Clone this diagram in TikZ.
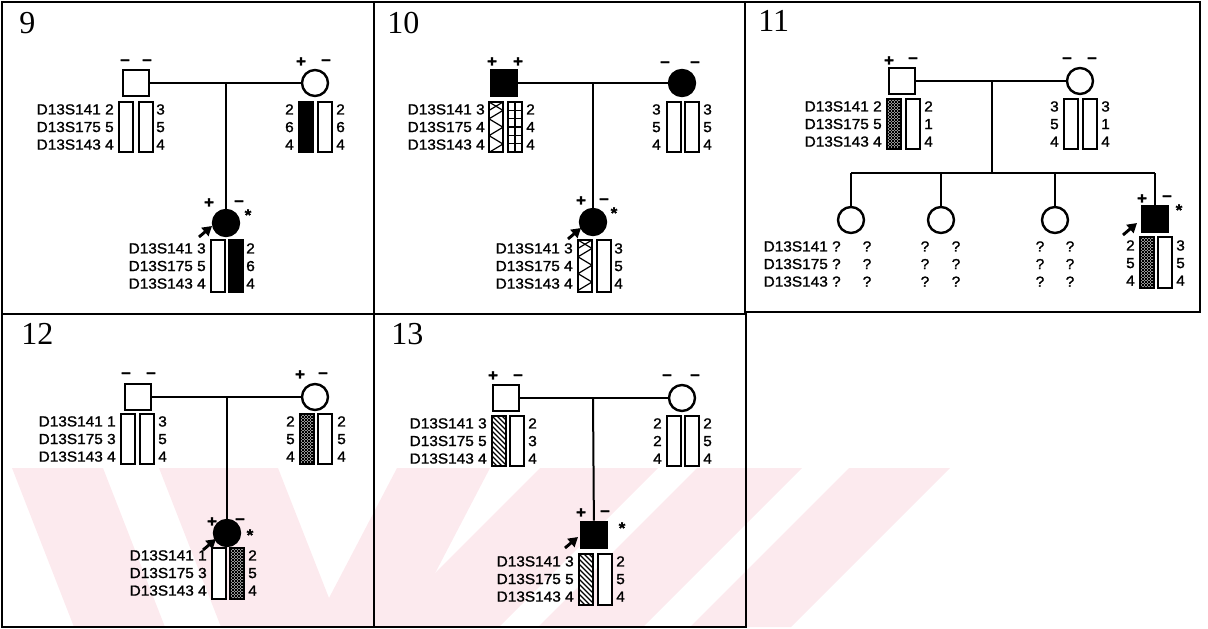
\documentclass[tikz,border=0pt]{standalone}
\usepackage{fontspec}
\setmainfont{Liberation Serif}
\newfontfamily\lblfont[FakeStretch=1.06,FakeBold=1.4]{Liberation Sans}
\usetikzlibrary{arrows.meta}
\definecolor{wmark}{RGB}{252,234,238}
\tikzset{
  male/.style={rectangle, draw, line width=2pt, minimum size=19.5pt, inner sep=0pt},
  female/.style={circle, draw, line width=1.8pt, minimum size=19.5pt, inner sep=0pt},
  affected/.style={fill=black},
  link/.style={line width=1.5pt},
  frame/.style={line width=1.1pt},
  bar/.style={draw, line width=0.9pt, fill=white},
  solidbar/.style={bar, fill=black},
  mesh/.style={bar, path picture={
      \foreach \k in {-60,-57,...,15} \draw[line width=0.6pt] ([xshift=\k*0.75pt]path picture bounding box.north west) -- ++(60,60);
      \foreach \k in {0,3,...,75} \draw[line width=0.6pt] ([xshift=\k*0.75pt]path picture bounding box.north west) -- ++(-60,60);}},
  hatch/.style={bar, path picture={
      \foreach \k in {-60,-55,...,15} \draw[line width=0.8pt] ([xshift=\k*0.75pt]path picture bounding box.north west) -- ++(60,60);}},
  zigzag/.style={bar, path picture={
      \draw[line width=0.9pt] (path picture bounding box.north west) -- ++(14,8.4) -- ++(-14,8.4) -- ++(14,8.4) -- ++(-14,8.4) -- ++(14,8.4) -- ++(-14,8.4);
      \draw[line width=0.9pt] (path picture bounding box.north east) -- ++(-14,8.4);}},
  grid/.style={bar, path picture={
      \draw[line width=0.8pt] (path picture bounding box.north) -- (path picture bounding box.south);
      \foreach \k in {1,...,5} \draw[line width=0.8pt] ([yshift=-\k*6.25pt]path picture bounding box.north west) -- ++(14,0);}},
  lbl/.style={font=\lblfont\fontsize{10.9}{13.2}\selectfont, inner sep=0pt, align=right, anchor=east},
  rnum/.style={lbl, align=left, anchor=west},
  qm/.style={lbl, align=center, anchor=center},
  sign/.style={font=\lblfont\bfseries\fontsize{12}{12}\selectfont, inner sep=0pt},
  star/.style={font=\lblfont\bfseries\fontsize{12}{12}\selectfont, inner sep=0pt},
  panel/.style={font=\fontsize{24}{24}\selectfont, inner sep=0pt, anchor=base west},
  proband/.style={-{Triangle[length=7pt,width=8pt]}, line width=2.2pt}
}

\begin{document}
\begin{tikzpicture}[x=0.75pt, y=-0.75pt]
    \useasboundingbox (0,0) rectangle (1208,629);

    \fill[wmark] (12,468) -- (103,468) -- (165,627) -- (74,627) -- cycle;
    \fill[wmark] (159,468) -- (278,468) -- (329,598) -- (397,468) -- (490,468) -- (407,627) -- (221,627) -- cycle;
    \fill[wmark] (540,468) -- (658,468) -- (499,627) -- (381,627) -- cycle;
    \fill[wmark] (697,468) -- (802,468) -- (643,627) -- (538,627) -- cycle;
    \fill[wmark] (849,468) -- (950,468) -- (791,627) -- (690,627) -- cycle;

    \draw[frame] (2,2) rectangle (374,314);
    \draw[frame] (374,2) rectangle (745,314);
    \draw[frame] (745,2) rectangle (1200,312);
    \draw[frame] (2,314) rectangle (374,627);
    \draw[frame] (374,314) rectangle (746,627);

    \node[panel] (n9) at (19,33) {9};
    \node[panel] (n10) at (387,33) {10};
    \node[panel] (n11) at (758,31) {11};
    \node[panel] (n12) at (21,344) {12};
    \node[panel] (n13) at (391,344) {13};

    \node[male] (F9) at (136,83) {};
    \node[female] (M9) at (315,83) {};
    \node[female, affected] (C9) at (226,223) {};
    \coordinate (j9) at (226,83);
    \draw[link] (F9) -- (M9);
    \draw[link] (j9) -- (C9);
    \node[sign] (s9a) at (125,62) {–};
    \node[sign] (s9b) at (147,62) {–};
    \node[sign] (s9c) at (301,62) {+};
    \node[sign] (s9d) at (326,62) {–};
    \node[sign] (s9e) at (209,203) {+};
    \node[sign] (s9f) at (239,203) {–};
    \node[star] (p9) at (248,215) {*};
    \coordinate (a9) at (199,237);
    \draw[proband] (a9) -- ++(13,-11);
    \path[bar] (119,102) rectangle ++(14,50);
    \path[bar] (139,102) rectangle ++(14,50);
    \node[lbl] (l9f) at (114,127) {D13S141 2\\D13S175 5\\D13S143 4};
    \node[rnum] (r9f) at (156,127) {3\\5\\4};
    \path[solidbar] (299,102) rectangle ++(14,50);
    \path[bar] (318,102) rectangle ++(14,50);
    \node[lbl] (l9m) at (294,127) {2\\6\\4};
    \node[rnum] (r9m) at (336,127) {2\\6\\4};
    \path[bar] (211,240) rectangle ++(14,52);
    \path[solidbar] (229,240) rectangle ++(14,52);
    \node[lbl] (l9c) at (206,266) {D13S141 3\\D13S175 5\\D13S143 4};
    \node[rnum] (r9c) at (246,266) {2\\6\\4};

    \node[male, affected] (F10) at (504,83) {};
    \node[female, affected] (M10) at (682,83) {};
    \node[female, affected] (C10) at (593,222) {};
    \coordinate (j10) at (593,83);
    \draw[link] (F10) -- (M10);
    \draw[link] (j10) -- (C10);
    \node[sign] (s10a) at (492,62) {+};
    \node[sign] (s10b) at (518,62) {+};
    \node[sign] (s10c) at (665,64) {–};
    \node[sign] (s10d) at (695,64) {–};
    \node[sign] (s10e) at (581,201) {+};
    \node[sign] (s10f) at (604,201) {–};
    \node[star] (p10) at (614,213) {*};
    \coordinate (a10) at (568,239);
    \draw[proband] (a10) -- ++(13,-11);
    \path[zigzag] (489,102) rectangle ++(14,50);
    \path[grid] (508,102) rectangle ++(14,50);
    \node[lbl] (l10f) at (485,127) {D13S141 3\\D13S175 4\\D13S143 4};
    \node[rnum] (r10f) at (526,127) {2\\4\\4};
    \path[bar] (667,102) rectangle ++(14,50);
    \path[bar] (685,102) rectangle ++(14,50);
    \node[lbl] (l10m) at (661,127) {3\\5\\4};
    \node[rnum] (r10m) at (703,127) {3\\5\\4};
    \path[zigzag] (578,240) rectangle ++(14,52);
    \path[bar] (597,240) rectangle ++(14,52);
    \node[lbl] (l10c) at (573,266) {D13S141 3\\D13S175 4\\D13S143 4};
    \node[rnum] (r10c) at (614,266) {3\\5\\4};

    \node[male] (F11) at (902,81) {};
    \node[female] (M11) at (1080,81) {};
    \node[female] (D11a) at (851,220) {};
    \node[female] (D11b) at (941,220) {};
    \node[female] (D11c) at (1055,220) {};
    \node[male, affected] (S11) at (1155,219) {};
    \coordinate (j11) at (992,81);
    \coordinate (k11) at (992,173);
    \coordinate (ka) at (851,173);
    \coordinate (kb) at (941,173);
    \coordinate (kc) at (1055,173);
    \coordinate (kd) at (1155,173);
    \draw[link] (F11) -- (M11);
    \draw[link] (j11) -- (k11);
    \draw[link] (ka) -- (kd);
    \draw[link] (ka) -- (D11a);
    \draw[link] (kb) -- (D11b);
    \draw[link] (kc) -- (D11c);
    \draw[link] (kd) -- (S11);
    \node[sign] (s11a) at (889,61) {+};
    \node[sign] (s11b) at (913,60) {–};
    \node[sign] (s11c) at (1067,60) {–};
    \node[sign] (s11d) at (1092,60) {–};
    \node[sign] (s11e) at (1142,199) {+};
    \node[sign] (s11f) at (1167,198) {–};
    \node[star] (p11) at (1179,210) {*};
    \coordinate (a11) at (1123,235);
    \draw[proband] (a11) -- ++(14,-12);
    \path[mesh] (887,99) rectangle ++(14,50);
    \path[bar] (906,99) rectangle ++(14,50);
    \node[lbl] (l11f) at (882,124) {D13S141 2\\D13S175 5\\D13S143 4};
    \node[rnum] (r11f) at (924,124) {2\\1\\4};
    \path[bar] (1064,99) rectangle ++(14,50);
    \path[bar] (1083,99) rectangle ++(14,50);
    \node[lbl] (l11m) at (1059,124) {3\\5\\4};
    \node[rnum] (r11m) at (1101,124) {3\\1\\4};
    \node[lbl] (l11a) at (841,264) {D13S141 ?\\D13S175 ?\\D13S143 ?};
    \node[qm] (r11a) at (867,264) {?\\?\\?};
    \node[qm] (l11b) at (925,264) {?\\?\\?};
    \node[qm] (r11b) at (956,264) {?\\?\\?};
    \node[qm] (l11c) at (1040,264) {?\\?\\?};
    \node[qm] (r11c) at (1070,264) {?\\?\\?};
    \path[mesh] (1140,237) rectangle ++(14,51);
    \path[bar] (1158,237) rectangle ++(14,51);
    \node[lbl] (l11s) at (1135,263) {2\\5\\4};
    \node[rnum] (r11s) at (1176,263) {3\\5\\4};

    \node[male] (F12) at (138,397) {};
    \node[female] (M12) at (315,397) {};
    \node[female, affected] (C12) at (227,533) {};
    \coordinate (j12) at (227,397);
    \draw[link] (F12) -- (M12);
    \draw[link] (j12) -- (C12);
    \node[sign] (s12a) at (126,375) {–};
    \node[sign] (s12b) at (151,375) {–};
    \node[sign] (s12c) at (300,375) {+};
    \node[sign] (s12d) at (323,375) {–};
    \node[sign] (s12e) at (212,522) {+};
    \node[sign] (s12f) at (240,521) {–};
    \node[star] (p12) at (250,535) {*};
    \coordinate (a12) at (203,550);
    \draw[proband] (a12) -- ++(13,-11);
    \path[bar] (121,414) rectangle ++(14,50);
    \path[bar] (140,414) rectangle ++(14,50);
    \node[lbl] (l12f) at (116,439) {D13S141 1\\D13S175 3\\D13S143 4};
    \node[rnum] (r12f) at (158,439) {3\\5\\4};
    \path[mesh] (300,414) rectangle ++(14,50);
    \path[bar] (318,414) rectangle ++(14,50);
    \node[lbl] (l12m) at (295,439) {2\\5\\4};
    \node[rnum] (r12m) at (337,439) {2\\5\\4};
    \path[bar] (212,548) rectangle ++(14,51);
    \path[mesh] (230,548) rectangle ++(14,51);
    \node[lbl] (l12c) at (207,573) {D13S141 1\\D13S175 3\\D13S143 4};
    \node[rnum] (r12c) at (248,573) {2\\5\\4};

    \node[male] (F13) at (506,398) {};
    \node[female] (M13) at (682,398) {};
    \node[male, affected] (C13) at (594,535) {};
    \coordinate (j13) at (593,398);
    \draw[link] (F13) -- (M13);
    \draw[link] (j13) -- (C13);
    \node[sign] (s13a) at (493,376) {+};
    \node[sign] (s13b) at (518,377) {–};
    \node[sign] (s13c) at (667,377) {–};
    \node[sign] (s13d) at (695,377) {–};
    \node[sign] (s13e) at (581,513) {+};
    \node[sign] (s13f) at (605,513) {–};
    \node[star] (p13) at (622,528) {*};
    \coordinate (a13) at (565,548);
    \draw[proband] (a13) -- ++(13,-11);
    \path[hatch] (492,416) rectangle ++(14,50);
    \path[bar] (510,416) rectangle ++(14,50);
    \node[lbl] (l13f) at (487,441) {D13S141 3\\D13S175 5\\D13S143 4};
    \node[rnum] (r13f) at (528,441) {2\\3\\4};
    \path[bar] (667,416) rectangle ++(14,50);
    \path[bar] (685,416) rectangle ++(14,50);
    \node[lbl] (l13m) at (662,441) {2\\2\\4};
    \node[rnum] (r13m) at (703,441) {2\\5\\4};
    \path[hatch] (579,554) rectangle ++(14,51);
    \path[bar] (598,554) rectangle ++(14,51);
    \node[lbl] (l13c) at (574,579) {D13S141 3\\D13S175 5\\D13S143 4};
    \node[rnum] (r13c) at (616,579) {2\\5\\4};
\end{tikzpicture}
\end{document}
